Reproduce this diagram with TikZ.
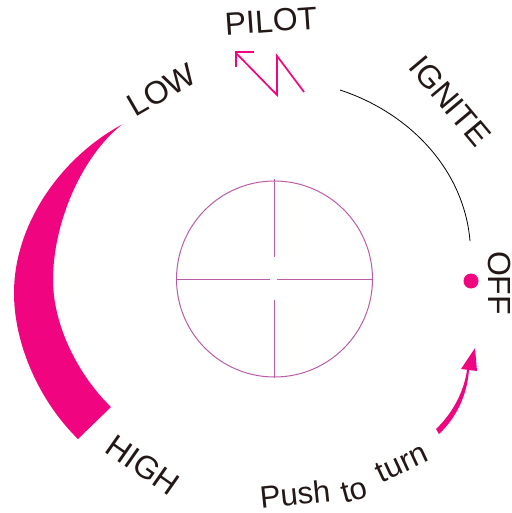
\documentclass[tikz,border=0pt]{standalone}
\usepackage{fontspec}
\setmainfont{Liberation Sans}
\definecolor{hot}{HTML}{F0047F}
\definecolor{plum}{HTML}{B85CA8}
\definecolor{ink}{HTML}{231815}
\tikzset{
  lbl/.style={text=ink,font=\fontsize{32}{32}\selectfont,inner sep=0pt,anchor=center},
  lbls/.style={text=ink,font=\fontsize{31}{31}\selectfont,inner sep=0pt,anchor=center},
  cross/.style={draw=plum,line width=1pt},
  zig/.style={draw=hot,line width=1.7pt,line cap=butt,line join=miter}
}
\begin{document}
\begin{tikzpicture}[x=1pt,y=-1pt]
\useasboundingbox (0,0) rectangle (511,513);
% crescent
\fill[hot] (122,124.5) .. controls (60,158) and (14,225) .. (14,293)
  .. controls (14,345) and (40,402) .. (78,439) -- (111,407)
  .. controls (78,375) and (53,325) .. (53,280)
  .. controls (53,225) and (80,158) .. (122,124.5) -- cycle;
% dial
\node[circle,draw=plum,line width=1pt,minimum size=196pt,inner sep=0pt] (dial) at (274.5,279) {};
\draw[cross] (dial.north) ++(0,-2) -- ++(0,78);
\draw[cross] (dial.south) -- ++(0,-78);
\draw[cross] (dial.west) -- ++(94,0);
\draw[cross] (dial.east) -- ++(-96,0);
% ignite arc
\coordinate (ia) at (340,90);
\coordinate (ib) at (470,241);
\draw[black,line width=0.8pt] (ia) .. controls (410,113) and (464,170) .. (ib);
% pilot zigzag
\draw[zig] (304,92) -- (277,56) -- (277,95) -- (236,53);
\draw[zig] (236,67) -- (236,52) -- (254,52);
% off dot
\node[circle,fill=hot,minimum size=15pt,inner sep=0pt] (dot) at (471,281) {};
% push arrow
\fill[hot] (436,429) .. controls (452,414) and (464,392) .. (467,370) -- (469,370)
  .. controls (467,396) and (456,418) .. (439,434) -- cycle;
\fill[hot] (475,348) -- (461,369) -- (477,371) -- cycle;
% labels
\node[lbl,rotate=4] (pilot) at (271,21) {PILOT};
\node[lbl,rotate=30] (low) at (162,90) {LOW};
\node[lbl,rotate=-50] (ign) at (450,101) {IGNITE};
\node[lbl,rotate=-90] (off) at (499.5,283) {OFF};
\node[lbl,rotate=-35] (high) at (143,465) {HIGH};
\node[lbls,rotate=6] (push) at (295,494) {Push};
\node[lbls,rotate=15] (to) at (354,491) {to};
\node[lbls,rotate=25] (turn) at (402,463) {turn};
\end{tikzpicture}
\end{document}
